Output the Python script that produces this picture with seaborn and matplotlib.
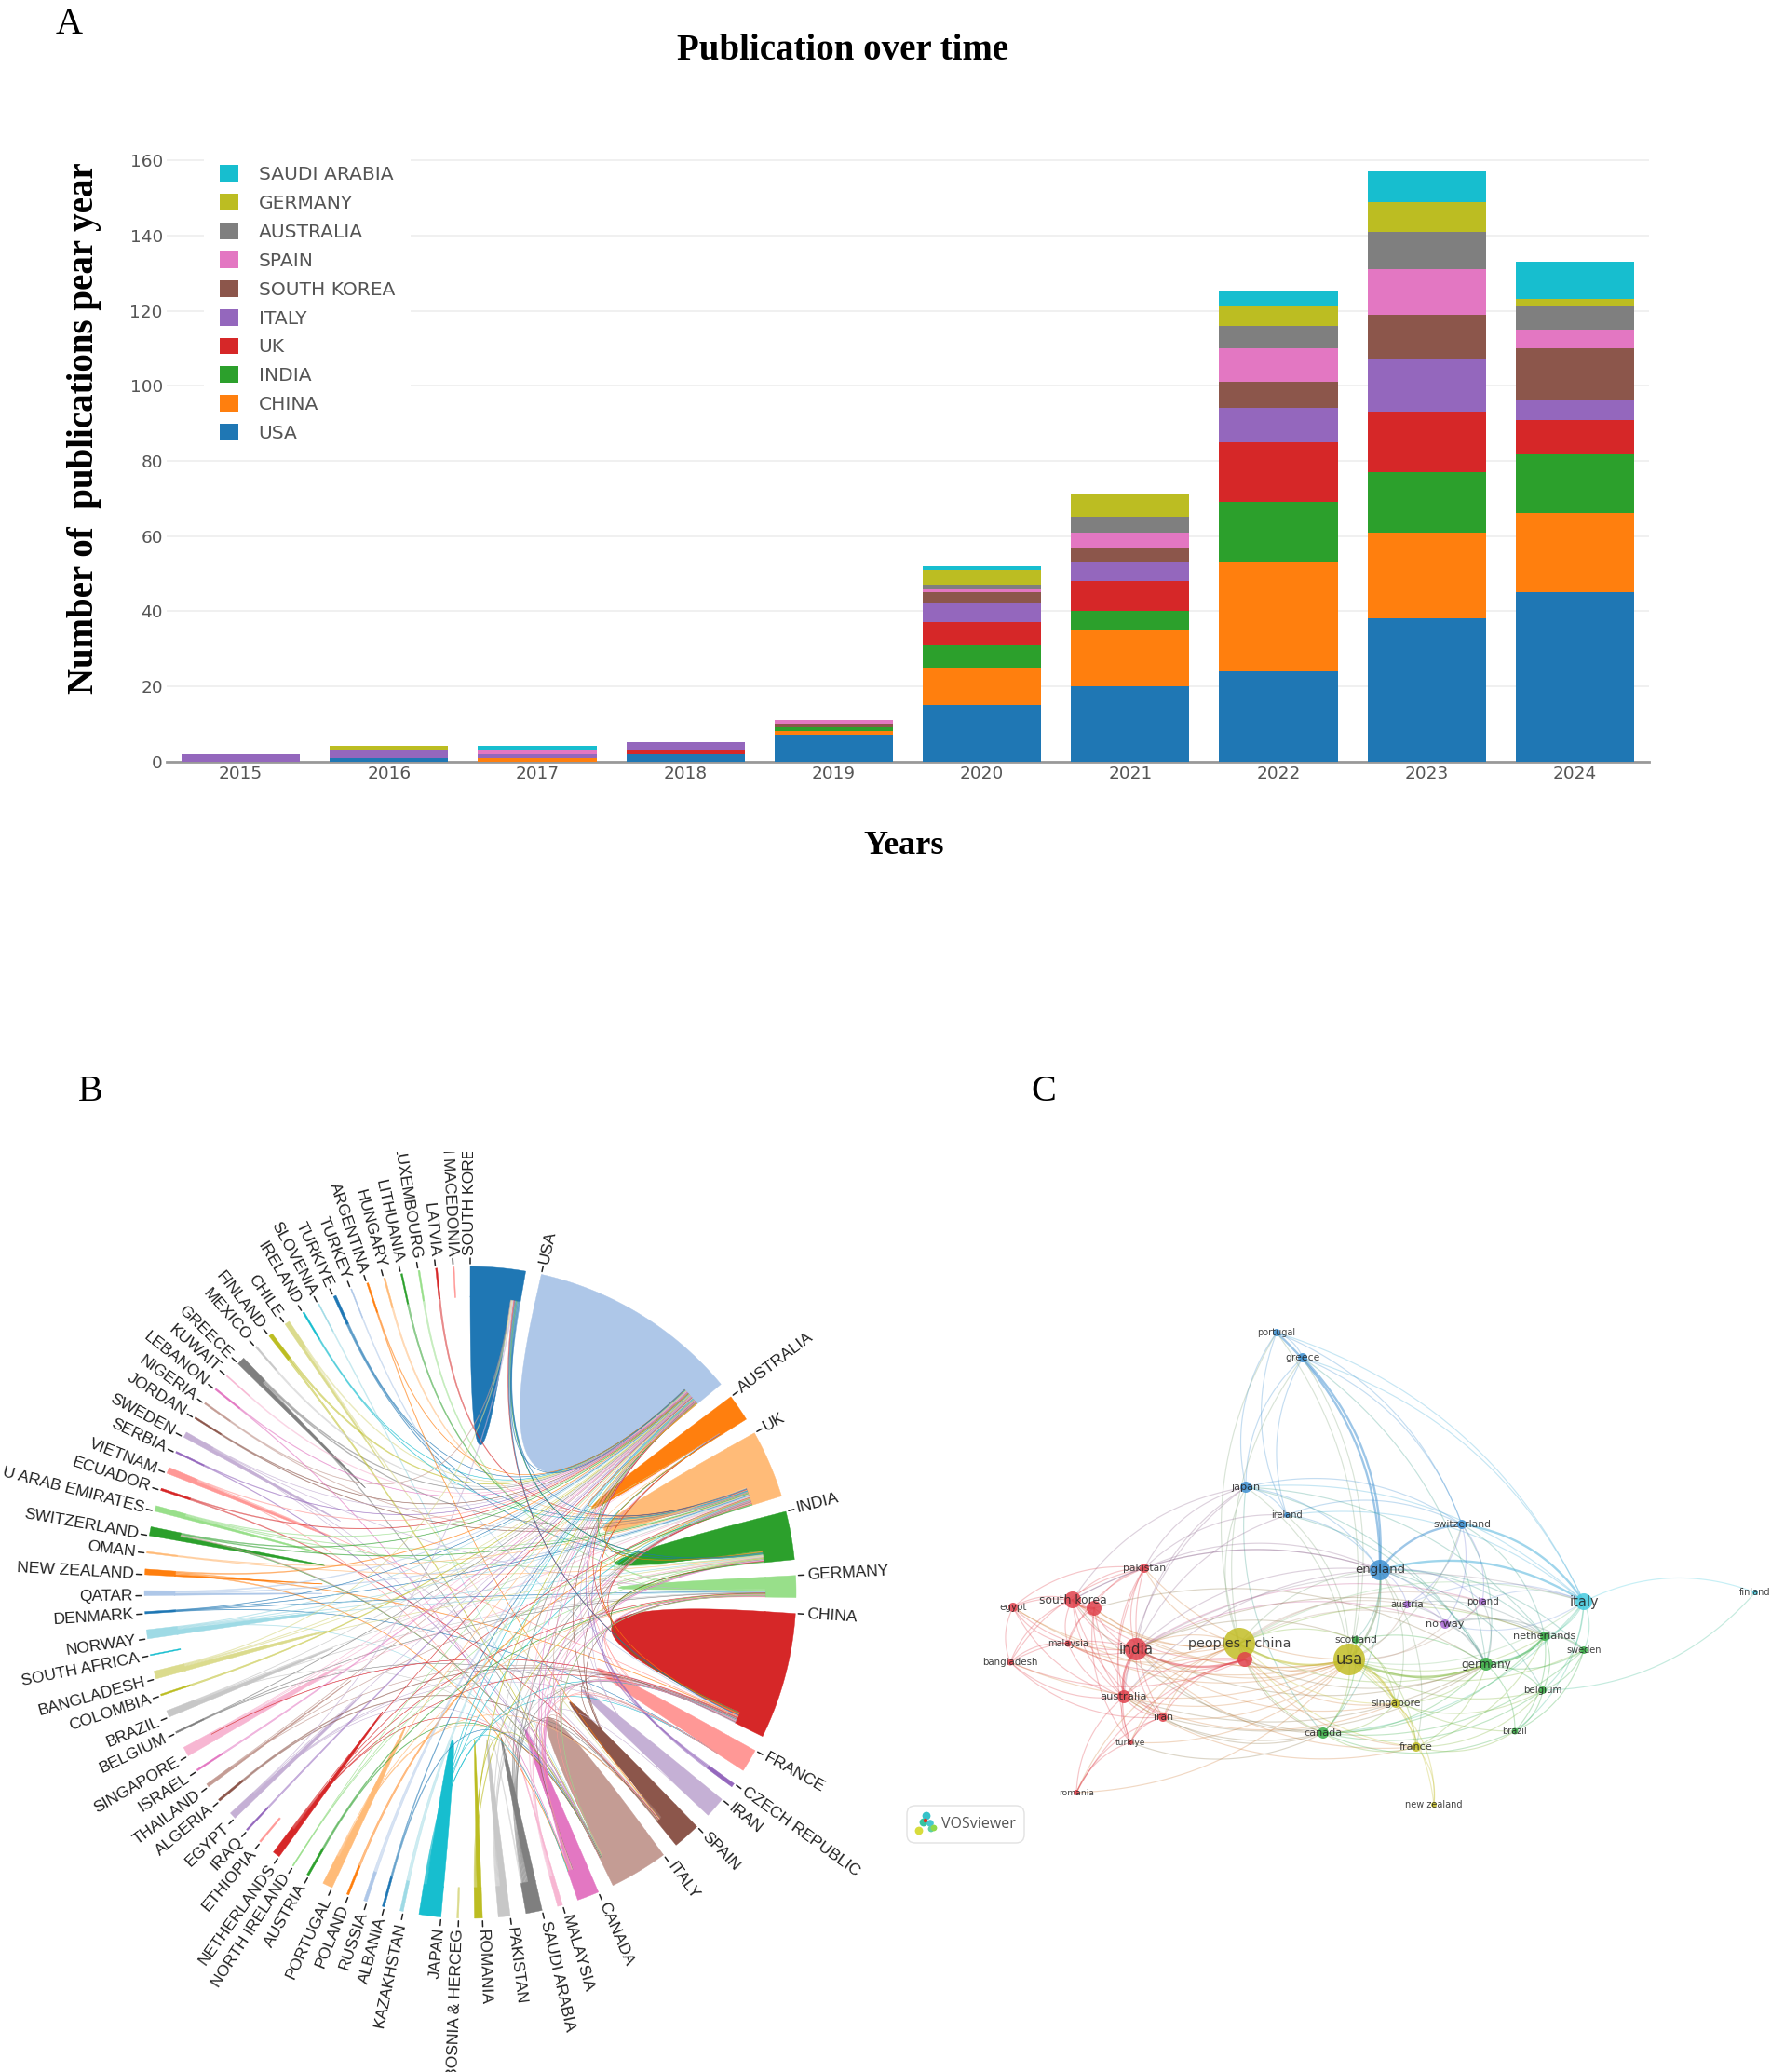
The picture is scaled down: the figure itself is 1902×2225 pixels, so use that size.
import numpy as np
import pandas as pd
import matplotlib
matplotlib.use("Agg")
import matplotlib.pyplot as plt
from matplotlib.patches import Patch, FancyBboxPatch
import seaborn as sns

# ---------- Panel A data ----------
years = [2015, 2016, 2017, 2018, 2019, 2020, 2021, 2022, 2023, 2024]
usa = [0, 1, 0, 2, 7, 15, 20, 24, 38, 45]
china = [0, 0, 1, 0, 1, 10, 15, 29, 23, 21]
india = [0, 0, 0, 0, 1, 6, 5, 16, 16, 16]
uk = [0, 0, 0, 1, 0, 6, 8, 16, 16, 9]
italy = [2, 2, 1, 2, 0, 5, 5, 9, 14, 5]
south_korea = [0, 0, 0, 0, 1, 3, 4, 7, 12, 14]
spain = [0, 0, 1, 0, 1, 1, 4, 9, 12, 5]
australia = [0, 0, 0, 0, 0, 1, 4, 6, 10, 6]
germany = [0, 1, 0, 0, 0, 4, 6, 5, 8, 2]
saudi = [0, 0, 1, 0, 0, 1, 0, 4, 8, 10]
bar_series = ["USA", "CHINA", "INDIA", "UK", "ITALY", "SOUTH KOREA", "SPAIN", "AUSTRALIA", "GERMANY", "SAUDI ARABIA"]
bar_values = [usa, china, india, uk, italy, south_korea, spain, australia, germany, saudi]
bar_colors = ["#1f77b4", "#ff7f0e", "#2ca02c", "#d62728", "#9467bd", "#8c564b", "#e377c2", "#7f7f7f", "#bcbd22", "#17becf"]
y_ticks = [0, 20, 40, 60, 80, 100, 120, 140, 160]

# ---------- Panel B data ----------
chord_names = ["SOUTH KOREA", "USA", "AUSTRALIA", "UK", "INDIA", "GERMANY", "CHINA", "FRANCE", "CZECH REPUBLIC", "IRAN",
               "SPAIN", "ITALY", "CANADA", "MALAYSIA", "SAUDI ARABIA", "PAKISTAN", "ROMANIA", "BOSNIA & HERCEG", "JAPAN",
               "KAZAKHSTAN", "ALBANIA", "RUSSIA", "POLAND", "PORTUGAL", "AUSTRIA", "NORTH IRELAND", "NETHERLANDS",
               "ETHIOPIA", "IRAQ", "EGYPT", "ALGERIA", "THAILAND", "ISRAEL", "SINGAPORE", "BELGIUM", "BRAZIL", "COLOMBIA",
               "BANGLADESH", "SOUTH AFRICA", "NORWAY", "DENMARK", "QATAR", "NEW ZEALAND", "OMAN", "SWITZERLAND",
               "U ARAB EMIRATES", "ECUADOR", "VIETNAM", "SERBIA", "SWEDEN", "JORDAN", "NIGERIA", "LEBANON", "KUWAIT",
               "GREECE", "MEXICO", "FINLAND", "CHILE", "IRELAND", "SLOVENIA", "TURKIYE", "TURKEY", "ARGENTINA", "HUNGARY",
               "LITHUANIA", "LUXEMBOURG", "LATVIA", "N MACEDONIA"]
chord_weights = [9.8, 37.7, 4.8, 12.1, 8.6, 3.9, 22.5, 4.1, 0.7, 3.7, 4.9, 10.4, 3.9, 0.9, 2.9, 2.1, 1.4, 0.3, 3.9,
                 0.6, 0.4, 0.6, 0.4, 1.8, 0.4, 0.2, 1.3, 0.3, 0.3, 1.2, 0.4, 0.6, 0.3, 1.7, 0.3, 1.2, 0.3, 1.4, 0.2,
                 1.6, 0.4, 0.9, 1.0, 0.3, 1.6, 1.0, 0.4, 1.1, 0.3, 1.0, 0.3, 0.3, 0.3, 0.2, 1.4, 0.3, 0.7, 0.9, 0.3,
                 0.2, 0.5, 0.2, 0.3, 0.3, 0.3, 0.3, 0.3, 0.2]
chord_self = [.8, .9, .9, .7, .72, .6, .9, .95, 0, .95, .75, .93, .7, .3, .5, .6, .6, 0, .85,
              0, 0, 0, 0, .75, 0, 0, .6, 0, 0, .65, 0, .5, 0, .75, 0, .65, 0, .6, 0,
              .6, 0, .4, .3, 0, .5, .55, 0, .6, 0, .6, 0, 0, 0, 0, .5, 0, 0, .5, 0,
              0, 0, 0, 0, 0, 0, 0, 0, 0]
chord_links = {
    "GREECE": ["USA", "UK", "ITALY"], "FINLAND": ["USA", "ITALY"], "CHILE": ["USA", "SPAIN"], "MEXICO": ["USA"],
    "IRELAND": ["USA", "UK"], "TURKIYE": ["USA", "UK", "INDIA"], "SLOVENIA": ["ITALY"], "TURKEY": ["CHINA"],
    "ARGENTINA": ["USA", "SPAIN"], "HUNGARY": ["UK"], "LITHUANIA": ["INDIA"], "LUXEMBOURG": ["GERMANY"], "LATVIA": ["UK"],
    "JORDAN": ["UK", "USA"], "NIGERIA": ["UK", "SOUTH KOREA"], "LEBANON": ["USA", "CANADA"], "KUWAIT": ["USA"],
    "SWEDEN": ["GERMANY", "USA", "ITALY", "SPAIN"], "SERBIA": ["ITALY", "USA"], "VIETNAM": ["USA", "CHINA", "CANADA"],
    "ECUADOR": ["USA", "SPAIN"], "U ARAB EMIRATES": ["USA", "UK", "INDIA"], "SWITZERLAND": ["USA", "UK", "ITALY"],
    "OMAN": ["UK", "INDIA"], "NEW ZEALAND": ["CANADA", "USA", "CHINA"], "QATAR": ["UK", "USA"],
    "DENMARK": ["UK", "GERMANY", "FRANCE", "USA"], "NORWAY": ["UK", "GERMANY", "USA", "INDIA", "ITALY"],
    "BANGLADESH": ["USA", "INDIA", "SOUTH KOREA", "AUSTRALIA"], "COLOMBIA": ["USA"],
    "BRAZIL": ["USA", "ITALY", "UK", "GERMANY"], "BELGIUM": ["USA", "GERMANY", "FRANCE"],
    "SINGAPORE": ["USA", "CHINA", "INDIA", "UK", "AUSTRALIA"], "ISRAEL": ["USA"], "THAILAND": ["USA", "CHINA", "INDIA"],
    "ALGERIA": ["CHINA", "SPAIN"], "EGYPT": ["USA", "CHINA", "ITALY", "SOUTH KOREA", "FRANCE"], "IRAQ": ["USA"],
    "NETHERLANDS": ["CHINA", "USA", "UK", "ITALY", "GERMANY"], "NORTH IRELAND": ["USA", "UK", "INDIA"],
    "AUSTRIA": ["GERMANY", "ITALY"], "PORTUGAL": ["USA", "GERMANY", "ITALY", "SPAIN"], "POLAND": ["UK"], "RUSSIA": ["USA"],
    "ALBANIA": ["USA", "ITALY"], "KAZAKHSTAN": ["USA"], "JAPAN": ["USA", "CHINA", "UK", "AUSTRALIA", "CANADA", "FRANCE"],
    "ROMANIA": ["USA", "INDIA", "ITALY"], "PAKISTAN": ["USA", "CHINA", "INDIA", "UK", "SAUDI ARABIA"],
    "SAUDI ARABIA": ["USA", "CHINA", "INDIA", "SPAIN", "UK"], "MALAYSIA": ["CHINA", "INDIA", "USA"],
    "CANADA": ["USA", "CHINA", "UK", "INDIA", "AUSTRALIA", "ITALY", "GERMANY"],
    "ITALY": ["USA", "UK", "SPAIN", "CHINA", "GERMANY", "SWITZERLAND"],
    "SPAIN": ["USA", "UK", "CHINA", "CANADA", "GERMANY"], "IRAN": ["USA", "CHINA", "UK", "CANADA"],
    "CZECH REPUBLIC": ["USA", "AUSTRALIA", "GERMANY"], "FRANCE": ["USA", "UK", "GERMANY", "ITALY", "CANADA"],
    "CHINA": ["USA", "UK", "AUSTRALIA", "INDIA", "SOUTH KOREA", "SINGAPORE"], "GERMANY": ["USA", "UK", "INDIA", "ITALY"],
    "INDIA": ["USA", "UK", "AUSTRALIA", "SOUTH KOREA", "CHINA"], "UK": ["USA", "AUSTRALIA"],
    "AUSTRALIA": ["USA", "CHINA", "INDIA"], "SOUTH KOREA": ["USA", "CHINA", "INDIA", "UK"],
}

# ---------- Panel C data ----------
vos_names = ["portugal", "greece", "japan", "ireland", "switzerland", "pakistan", "england", "south korea", "node a",
             "egypt", "austria", "poland", "italy", "finland", "norway", "netherlands", "malaysia", "india",
             "peoples r china", "node b", "scotland", "usa", "sweden", "germany", "bangladesh", "belgium", "australia",
             "singapore", "iran", "canada", "brazil", "turkiye", "france", "romania", "new zealand"]
vos_x = [1371, 1399, 1338, 1382, 1570, 1229, 1482, 1152, 1175, 1088, 1511, 1592, 1701, 1885, 1552, 1659, 1147, 1220,
         1331, 1337, 1456, 1449, 1701, 1596, 1085, 1657, 1207, 1499, 1249, 1421, 1627, 1214, 1521, 1156, 1540]
vos_y = [1431, 1458, 1597, 1627, 1637, 1684, 1686, 1718, 1727, 1726, 1723, 1720, 1720, 1710, 1744, 1757, 1765, 1771,
         1765, 1782, 1761, 1782, 1772, 1787, 1785, 1815, 1822, 1829, 1844, 1861, 1859, 1871, 1876, 1925, 1938]
vos_radius = [4, 5, 6, 3, 5, 5, 11, 9, 8, 5, 4, 4, 9, 3, 5, 5, 3.5, 12, 17, 8, 4, 17, 4, 7, 3.5, 4, 7, 5, 5, 6, 3.5, 3, 5, 3, 3]
vos_font = [9.8, 10.8, 11.3, 9.8, 10.8, 10.8, 13.2, 12.4, 0, 10.3, 10.3, 10.3, 14.5, 9.8, 11.3, 11.3, 9.8, 15, 14.4, 0, 10.8,
            16.5, 9.8, 12, 10.3, 10.3, 11.5, 10.8, 10.8, 11.3, 9.8, 9.2, 11.3, 9.2, 9.8]
vos_cluster = ["blue", "blue", "blue", "blue", "blue", "red", "blue", "red", "red", "red", "purple", "purple", "cyan", "cyan",
               "purple", "green", "red", "red", "olive", "red", "green", "olive", "green", "green", "red", "green", "red",
               "olive", "red", "green", "green", "red", "olive", "red", "olive"]
vos_palette = {"red": "#e0414c", "olive": "#c2bd25", "green": "#37ad45", "blue": "#3d8fd1", "cyan": "#45cbe0", "purple": "#a868d4"}
vos_links = {
    "portugal": ["greece", "japan", "england", "switzerland", "italy", "ireland", "usa", "peoples r china"],
    "greece": ["japan", "england", "switzerland", "italy", "germany", "ireland", "peoples r china", "usa"],
    "japan": ["england", "ireland", "usa", "peoples r china", "south korea", "canada", "germany", "india", "pakistan",
              "australia", "italy", "switzerland", "netherlands"],
    "ireland": ["england", "switzerland", "pakistan", "usa", "india", "germany", "italy"],
    "switzerland": ["england", "italy", "austria", "norway", "germany", "usa", "netherlands", "poland"],
    "pakistan": ["south korea", "egypt", "india", "australia", "peoples r china", "node a", "england", "usa", "malaysia",
                 "iran", "bangladesh", "turkiye"],
    "england": ["italy", "usa", "peoples r china", "austria", "norway", "germany", "netherlands", "scotland", "india",
                "canada", "singapore", "australia", "south korea", "sweden", "poland", "france", "belgium"],
    "south korea": ["egypt", "india", "node a", "malaysia", "australia", "bangladesh", "peoples r china", "usa", "iran",
                    "node b", "england", "canada"],
    "node a": ["egypt", "india", "australia", "malaysia", "peoples r china", "usa", "iran", "turkiye", "germany"],
    "egypt": ["india", "malaysia", "bangladesh", "peoples r china", "australia", "usa"],
    "austria": ["norway", "germany", "italy", "netherlands", "usa", "peoples r china"],
    "poland": ["italy", "norway", "germany", "peoples r china", "india", "usa"],
    "italy": ["finland", "netherlands", "sweden", "germany", "usa", "belgium", "brazil", "canada", "peoples r china",
              "norway", "india"],
    "finland": ["belgium"],
    "norway": ["germany", "netherlands", "peoples r china", "usa", "india", "sweden"],
    "netherlands": ["germany", "sweden", "belgium", "usa", "canada", "brazil", "peoples r china", "france", "india"],
    "malaysia": ["india", "bangladesh", "australia", "peoples r china", "usa", "node b"],
    "india": ["peoples r china", "usa", "node b", "australia", "iran", "turkiye", "bangladesh", "canada", "germany",
              "singapore", "france", "scotland"],
    "peoples r china": ["usa", "node b", "canada", "singapore", "germany", "australia", "france", "iran", "turkiye",
                        "romania", "scotland"],
    "node b": ["usa", "australia", "iran", "turkiye", "romania", "germany", "canada", "singapore", "france", "bangladesh"],
    "scotland": ["usa", "canada", "germany", "singapore", "france"],
    "usa": ["germany", "canada", "singapore", "france", "new zealand", "australia", "iran", "turkiye", "romania", "belgium",
            "sweden", "brazil", "bangladesh"],
    "sweden": ["germany", "belgium", "brazil", "canada"],
    "germany": ["belgium", "brazil", "canada", "singapore", "france", "australia", "iran"],
    "bangladesh": ["australia", "iran"],
    "belgium": ["singapore", "france", "canada", "brazil"],
    "australia": ["iran", "turkiye", "romania", "canada", "singapore", "france"],
    "singapore": ["france", "canada", "new zealand"],
    "iran": ["turkiye", "romania", "canada"],
    "canada": ["france", "brazil"],
    "brazil": ["france"],
    "france": ["new zealand"],
    "turkiye": ["romania", "canada"],
}
vos_heavy = [("greece", "england"), ("portugal", "england"), ("england", "italy"), ("switzerland", "italy"),
             ("usa", "peoples r china"), ("usa", "singapore"), ("england", "switzerland"), ("germany", "netherlands"),
             ("india", "node b"), ("india", "australia"), ("south korea", "node a"), ("usa", "germany"), ("england", "usa")]

# ---------- Figure ----------
W, H = 1902, 2225
sns.set_theme(style="white")
plt.rcParams["font.family"] = ["Liberation Sans", "DejaVu Sans"]
plt.rcParams["text.color"] = "black"
fig = plt.figure(figsize=(W / 100, H / 100), dpi=100, facecolor="white")


def px_axes(x0, y0, x1, y1):
    return fig.add_axes([x0 / W, 1 - y1 / H, (x1 - x0) / W, (y1 - y0) / H])


SERIF = "Liberation Serif"
fig.text(74 / W, 1 - 27 / H, "A", family=SERIF, fontsize=29, ha="center", va="center", color="black")
fig.text(97 / W, 1 - 1172 / H, "B", family=SERIF, fontsize=29, ha="center", va="center", color="black")
fig.text(1121 / W, 1 - 1172 / H, "C", family=SERIF, fontsize=29, ha="center", va="center", color="black")
fig.text(905 / W, 1 - 55 / H, "Publication over time", family=SERIF, weight="bold", fontsize=28, ha="center", va="center",
         color="black")
fig.text(91 / W, 1 - 460 / H, "Number of  publications pear year", family=SERIF, weight="bold", fontsize=28,
         rotation=90, ha="center", va="center", color="black")
fig.text(971 / W, 1 - 908 / H, "Years", family=SERIF, weight="bold", fontsize=26, ha="center", va="center", color="black")

# ---------- Panel A ----------
ax = px_axes(179, 152, 1771, 817.6)
bottom = np.zeros(len(years))
for name, vals, col in zip(bar_series, bar_values, bar_colors):
    sns.barplot(x=years, y=vals, order=years, color=col, bottom=bottom, width=0.8, saturation=1,
                errorbar=None, ax=ax, linewidth=0, zorder=3)
    bottom = bottom + np.array(vals)
ax.set_xlim(-0.5, 9.5)
ax.set_ylim(0, 165)
ax.set_yticks(y_ticks)
ax.set_axisbelow(True)
ax.yaxis.grid(True, color="#f0f0f0", lw=1.4)
ax.xaxis.grid(False)
for s in ["top", "left", "right"]:
    ax.spines[s].set_visible(False)
ax.spines["bottom"].set_color("#999999")
ax.spines["bottom"].set_linewidth(2)
ax.tick_params(axis="both", length=0, labelsize=13.3, labelcolor="#555555", pad=3)
for t in ax.get_xticklabels() + ax.get_yticklabels():
    t.set_family("DejaVu Sans")
ax.set_xlabel("")
ax.set_ylabel("")
handles = [Patch(facecolor=c, edgecolor="none", label=n) for n, c in zip(bar_series[::-1], bar_colors[::-1])]
leg = ax.legend(handles=handles, loc="upper left", bbox_to_anchor=(219 / W, 1 - 160 / H), bbox_transform=fig.transFigure,
                borderaxespad=0, frameon=True, facecolor="white", edgecolor="none", framealpha=1, fancybox=False,
                prop={"family": "DejaVu Sans", "size": 14.6}, labelcolor="#555555", handlelength=0.985, handleheight=0.985,
                handletextpad=1.05, labelspacing=0.54, borderpad=0.85)
leg.set_zorder(2)

# ---------- Panel B ----------
bx = px_axes(0, 1237, 960, 2225)
bx.set_xlim(-505, 455)
bx.set_ylim(-515, 473)
bx.axis("off")
R_OUT, R_IN = 350, 317
GAP = (360 - sum(chord_weights)) / len(chord_weights)
pal20 = sns.color_palette("tab20")
node_col = [pal20[i % 20] for i in range(len(chord_names))]
starts = []
a = 0.0
for w_ in chord_weights:
    starts.append(a)
    a += w_ + GAP
index = {n: i for i, n in enumerate(chord_names)}


def pol(r, deg):
    t = np.radians(deg)
    return np.array([r * np.sin(t), r * np.cos(t)])


def arc(r, a0, a1, n=40):
    d = np.radians(np.linspace(a0, a1, n))
    return np.column_stack([r * np.sin(d), r * np.cos(d)])


def quad(p0, p1, n=60):
    t = np.linspace(0, 1, n)[:, None]
    return (1 - t) ** 2 * p0 + t ** 2 * p1


for i, n in enumerate(chord_names):
    a0, a1 = starts[i], starts[i] + chord_weights[i]
    band = np.vstack([arc(R_OUT, a0, a1), arc(R_IN, a1, a0)])
    bx.fill(band[:, 0], band[:, 1], color=node_col[i], lw=0.3, zorder=3)
    if chord_self[i] > 0:
        am = a0 + chord_self[i] * chord_weights[i]
        rib = np.vstack([arc(R_IN + 1, a0, am), quad(pol(R_IN + 1, am), pol(R_IN + 1, a0))])
        bx.fill(rib[:, 0], rib[:, 1], facecolor=node_col[i], edgecolor=node_col[i], lw=0.3, zorder=3.5)
    bx.plot(*np.column_stack([pol(R_OUT + 3, a0), pol(R_OUT + 9, a0)]), color="#222222", lw=1.1, zorder=3)
    if a0 < 180:
        rot, ha = 90 - a0, "left"
    else:
        rot, ha = 270 - a0, "right"
    lx, ly = pol(R_OUT + 12, a0)
    bx.text(lx, ly, n, rotation=rot, rotation_mode="anchor", ha=ha, va="center", fontsize=12.6,
            color="#222222", clip_on=True, family="Liberation Sans")

ends = {i: [] for i in range(len(chord_names))}
pairs = []
for src, targets in chord_links.items():
    for tgt in targets:
        k = len(pairs)
        pairs.append((index[src], index[tgt]))
        ends[index[src]].append((k, 0))
        ends[index[tgt]].append((k, 1))
slot = {}
for i, lst in ends.items():
    if not lst:
        continue
    a0 = starts[i] + chord_self[i] * chord_weights[i]
    a1 = starts[i] + chord_weights[i]

    def other(item):
        p = pairs[item[0]]
        return (starts[p[1 - item[1]]] - starts[i]) % 360

    lst = sorted(lst, key=other, reverse=True)
    w_ = (a1 - a0) / len(lst)
    for j, key in enumerate(lst):
        slot[key] = (a0 + j * w_, a0 + (j + 1) * w_)
for k, (s, t) in enumerate(pairs):
    s0, s1 = slot[(k, 0)]
    t0, t1 = slot[(k, 1)]
    rib = np.vstack([arc(R_IN, s0, s1, 6), quad(pol(R_IN, s1), pol(R_IN, t0)),
                     arc(R_IN, t0, t1, 6), quad(pol(R_IN, t1), pol(R_IN, s0))])
    bx.fill(rib[:, 0], rib[:, 1], facecolor=node_col[s], edgecolor=node_col[s], lw=0.35, alpha=0.5, zorder=4)

# ---------- Panel C ----------
cx = px_axes(960, 1400, 1902, 2000)
cx.set_xlim(960, 1902)
cx.set_ylim(2000, 1400)
cx.axis("off")
vos_df = pd.DataFrame({"x": vos_x, "y": vos_y, "name": vos_names, "cluster": vos_cluster, "radius": vos_radius, "font": vos_font})
vos_df["area"] = (2 * vos_df["radius"] * 0.72) ** 2
pos = {n: np.array([x, y], float) for n, x, y in zip(vos_names, vos_x, vos_y)}
clu = dict(zip(vos_names, vos_cluster))
mid_c = np.array([1420.0, 1765.0])
heavy = {frozenset(p) for p in vos_heavy}
for a_, targets in vos_links.items():
    for b_ in targets:
        p0, p1 = pos[a_], pos[b_]
        m = (p0 + p1) / 2
        d = p1 - p0
        nrm = np.array([-d[1], d[0]])
        if np.dot(nrm, m - mid_c) < 0:
            nrm = -nrm
        ctrl = m + 0.22 * nrm
        t = np.linspace(0, 1, 50)[:, None]
        curve = (1 - t) ** 2 * p0 + 2 * t * (1 - t) * ctrl + t ** 2 * p1
        c1 = np.array(matplotlib.colors.to_rgb(vos_palette[clu[a_]]))
        c2 = np.array(matplotlib.colors.to_rgb(vos_palette[clu[b_]]))
        is_h = frozenset((a_, b_)) in heavy
        cx.plot(curve[:, 0], curve[:, 1], color=tuple((c1 + c2) / 2), lw=1.7 if is_h else 0.85,
                alpha=0.5 if is_h else 0.3, zorder=1, solid_capstyle="round")
sns.scatterplot(data=vos_df, x="x", y="y", hue="cluster", palette=vos_palette, size="area",
                sizes=(vos_df["area"].min(), vos_df["area"].max()), alpha=0.85, linewidth=0, legend=False, ax=cx, zorder=2)
cx.set_xlabel("")
cx.set_ylabel("")
cx.set_xlim(960, 1902)
cx.set_ylim(2000, 1400)
for n, x, y, f in zip(vos_names, vos_x, vos_y, vos_font):
    if f > 0:
        cx.text(x, y, n, fontsize=f * 0.72, family="DejaVu Sans", ha="center", va="center", color="#222222",
                alpha=0.85, zorder=3, clip_on=False)

cx.add_patch(FancyBboxPatch((974, 1939), 126, 40, boxstyle="round,pad=0,rounding_size=9", facecolor="white",
                            edgecolor="#e2e2e2", lw=1, zorder=3))
badge_x = [992, 995, 999, 987, 1000, 994, 1003]
badge_y = [1957, 1950, 1958, 1966, 1964, 1955, 1963]
badge_c = ["#36c4a0", "#35c2c8", "#45c8d0", "#d8dc3c", "#5fd0a0", "#e03020", "#8fd94a"]
cx.scatter(badge_x, badge_y, s=[40, 40, 30, 40, 24, 10, 24], c=badge_c, linewidths=0, zorder=4)
cx.text(1011, 1959, "VOSviewer", fontsize=11.5, family="Open Sans", color="#555555", ha="left", va="center", zorder=4)

fig.savefig("out.png", dpi=100, facecolor="white")
